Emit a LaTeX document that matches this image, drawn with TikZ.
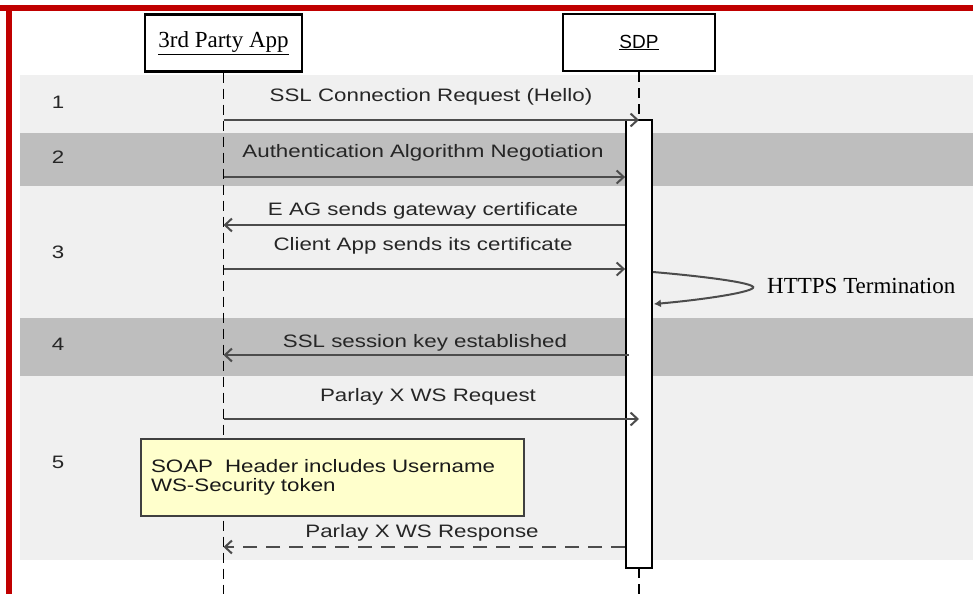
\documentclass[tikz,border=0pt]{standalone}
\usepackage{fontspec}
\setmainfont{Liberation Sans}
\newfontfamily\msgfont{Liberation Sans}[FakeStretch=1.24]
\newfontfamily\serfont{Liberation Serif}
\usetikzlibrary{arrows.meta,positioning,calc}
\definecolor{redframe}{HTML}{C00000}
\definecolor{bandlight}{HTML}{F0F0F0}
\definecolor{banddark}{HTML}{BEBEBE}
\definecolor{notefill}{HTML}{FFFFCC}
\tikzset{
  head/.style   = {rectangle, draw, line width=2.2pt, fill=white, minimum height=57pt},
  actbox/.style = {rectangle, draw, line width=1.8pt, fill=white, minimum width=26pt},
  life/.style   = {line width=1.8pt, dash pattern=on 10pt off 6pt},
  msg/.style    = {draw=black!70, line width=2pt, -{Straight Barb[length=7pt,width=13pt]}},
  reply/.style  = {msg, dash pattern=on 14pt off 9pt},
  lbl/.style    = {anchor=base, inner sep=0pt, text=black!85,
                   font=\msgfont\fontsize{18}{19}\selectfont},
  rownum/.style = {anchor=base, inner sep=0pt, text=black!85,
                   font=\msgfont\fontsize{18}{20}\selectfont},
  notebox/.style= {rectangle, draw=black!75, line width=1.8pt, fill=notefill,
                   minimum width=383pt, minimum height=77pt, align=left,
                   text width=363pt, text=black!90, font=\msgfont\fontsize{18}{19}\selectfont},
}

\begin{document}
\begin{tikzpicture}[x=1pt,y=-1pt]
    \useasboundingbox (0,0) rectangle (973,594);
    % frame and bands
    \fill[white] (0,0) rectangle (973,594);
    \fill[bandlight] (20,75) rectangle (973,133);
    \fill[banddark]  (20,133) rectangle (973,186);
    \fill[bandlight] (20,186) rectangle (973,318);
    \fill[banddark]  (20,318) rectangle (973,376);
    \fill[bandlight] (20,376) rectangle (973,560);
    \fill[redframe] (0,5) rectangle (973,11);
    \fill[redframe] (6,11) rectangle (12,594);
    % row numbers
    \node[rownum] (r1) at (58,108) {1};
    \node[rownum] (r2) at (58,163) {2};
    \node[rownum] (r3) at (58,258) {3};
    \node[rownum] (r4) at (58,350) {4};
    \node[rownum] (r5) at (58,468) {5};
    % lifelines
    \node[head, minimum width=157pt] (app) at (223.5,43)
      {\serfont\fontsize{23}{25}\selectfont\underline{3rd Party App}};
    \node[head, minimum width=152pt] (sdp) at (639,42.5)
      {\fontsize{19}{21}\selectfont\underline{SDP}};
    \coordinate (bot) at (0,594);
    \draw[life] (app.south) -- (app.south |- bot);
    \draw[life] (sdp.south) -- (sdp.south |- bot);
    \node[actbox, minimum height=448pt] (act) at (639,344) {};
    % message heights
    \coordinate (y1) at (0,120);
    \coordinate (y2) at (0,177);
    \coordinate (y3) at (0,225);
    \coordinate (y4) at (0,269);
    \coordinate (y5) at (0,355);
    \coordinate (y6) at (0,419);
    \coordinate (y7) at (0,547);
    % messages
    \node[lbl] (m1) at (431,101) {SSL Connection Request (Hello)};
    \draw[msg] (app |- y1) -- (sdp |- y1);
    \node[lbl] (m2) at (423,157) {Authentication Algorithm Negotiation};
    \draw[msg] (app |- y2) -- (act.west |- y2);
    \node[lbl] (m3) at (423,215) {E AG sends gateway certificate};
    \draw[msg] (act.west |- y3) -- (app |- y3);
    \node[lbl] (m4) at (423,250) {Client App sends its certificate};
    \draw[msg] (app |- y4) -- (act.west |- y4);
    \node[lbl] (m5) at (425,347) {SSL session key established};
    \draw[msg] ($(act.west |- y5)+(4,0)$) -- (app |- y5);
    \node[lbl] (m6) at (428,401) {Parlay X WS Request};
    \draw[msg] (app |- y6) -- (sdp |- y6);
    \node[lbl] (m7) at (422,537) {Parlay X WS Response};
    \draw[reply] (act.west |- y7) -- (app |- y7);
    % self call
    \coordinate (loopa) at (0,272);
    \coordinate (loopb) at (0,304);
    \node[anchor=base west, inner sep=0pt, font=\serfont\fontsize{23}{25}\selectfont]
      (https) at (767,293) {HTTPS Termination};
    \draw[draw=black!70, line width=2pt, -{Latex[length=7pt,width=8pt]}]
      (act.east |- loopa) .. controls (700,276) and (758,283) .. (753,288)
      .. controls (748,293) and (700,300) .. ($(act.east |- loopb)+(1,0)$);
    % note
    \node[notebox] (note) at (332.5,477.5)
      {SOAP\ \ Header includes Username\\WS-Security token};
\end{tikzpicture}
\end{document}
